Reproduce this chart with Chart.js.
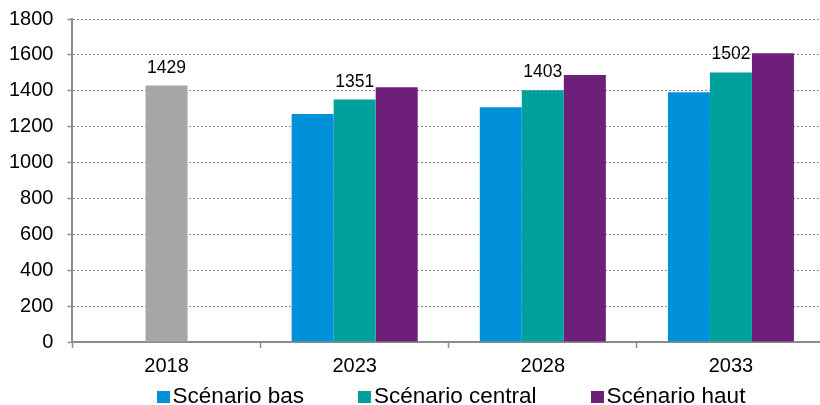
<!DOCTYPE html>
<html lang="fr">
<head>
<meta charset="utf-8">
<script src="https://cdn.jsdelivr.net/npm/chart.js@4/dist/chart.umd.min.js"></script>
<style>
  html, body { margin: 0; padding: 0; background: #fff; overflow: hidden; }
  #wrap { position: relative; width: 826px; height: 405px; overflow: hidden; }
  #c { position: absolute; left: 0; top: -7px; }
  #legend {
    position: absolute; left: 0; width: 902px; top: 383px;
    display: flex; justify-content: center;
    font: 22.5px Arial, "Liberation Sans", sans-serif; line-height: 26px; color: #000;
    white-space: nowrap;
  }
  #legend .item { margin: 0 27px; }
  #legend i { display: inline-block; width: 13px; height: 12px; margin-right: 3px; vertical-align: baseline; }
</style>
</head>
<body>
<div id="wrap">
  <canvas id="c" width="826" height="412"></canvas>
  <div id="legend"></div>
</div>
<script>
const years = ['2018', '2023', '2028', '2033'];
const histo = [1429, null, null, null];
const bas = [null, 1270, 1308, 1392];
const central = [null, 1351, 1403, 1502];
const haut = [null, 1420, 1488, 1609];
const seriesNames = ['Scénario bas', 'Scénario central', 'Scénario haut'];
const yTicks = [0, 200, 400, 600, 800, 1000, 1200, 1400, 1600, 1800];

const FONT = 'Arial, "Liberation Sans", sans-serif';
const colors = { histo: '#a6a6a6', bas: '#0091da', central: '#00a19c', haut: '#6d1f7a' };

// labels above the gray bar and the central scenario
const valueLabels = {
  id: 'valueLabels',
  afterDatasetsDraw(chart){
    const ctx = chart.ctx;
    ctx.save();
    ctx.font = '17.5px ' + FONT;
    ctx.fillStyle = '#000';
    ctx.textAlign = 'center';
    ctx.textBaseline = 'alphabetic';
    chart.data.datasets.forEach((ds, i) => {
      if(!ds.showValue) return;
      chart.getDatasetMeta(i).data.forEach((bar, j) => {
        const v = ds.data[j];
        if(v == null) return;
        ctx.fillText(String(v), bar.x, bar.y - 13);
      });
    });
    ctx.restore();
  }
};

const datasets = [
  { label: '2018', data: histo, backgroundColor: colors.histo, grouped: false,
    categoryPercentage: 0.67, barPercentage: 1/3, showValue: true, inLegend: false },
  { label: seriesNames[0], data: bas, backgroundColor: colors.bas,
    categoryPercentage: 0.67, barPercentage: 1 },
  { label: seriesNames[1], data: central, backgroundColor: colors.central,
    categoryPercentage: 0.67, barPercentage: 1, showValue: true },
  { label: seriesNames[2], data: haut, backgroundColor: colors.haut,
    categoryPercentage: 0.67, barPercentage: 1 },
];

new Chart(document.getElementById('c'), {
  type: 'bar',
  data: { labels: years, datasets },
  options: {
    responsive: false,
    animation: false,
    devicePixelRatio: 1,
    layout: { padding: { left: -5, right: 1, top: 0, bottom: 21 } },
    plugins: { legend: { display: false }, tooltip: { enabled: false } },
    scales: {
      x: {
        offset: true,
        grid: { offset: true, drawOnChartArea: false, drawTicks: true, tickLength: 6, tickColor: '#8c8c8c', tickWidth: 1.5 },
        border: { color: '#8c8c8c', width: 2 },
        ticks: { color: '#000', font: { family: FONT, size: 20 }, padding: 6, maxRotation: 0 }
      },
      y: {
        min: 0, max: 1800,
        afterBuildTicks(scale){ scale.ticks = yTicks.map(v => ({ value: v })); },
        grid: { color: '#8c8c8c', lineWidth: 1, tickLength: 5, tickColor: '#8c8c8c', tickWidth: 1.5, tickBorderDash: [] },
        border: { color: '#8c8c8c', width: 2, dash: [2, 2] },
        ticks: { color: '#000', font: { family: FONT, size: 20 }, padding: 14, callback: v => String(v) }
      }
    }
  },
  plugins: [valueLabels]
});

const legend = document.getElementById('legend');
datasets.filter(d => d.inLegend !== false).forEach(d => {
  const item = document.createElement('span');
  item.className = 'item';
  const box = document.createElement('i');
  box.style.background = d.backgroundColor;
  item.appendChild(box);
  item.appendChild(document.createTextNode(d.label));
  legend.appendChild(item);
});
</script>
</body>
</html>
